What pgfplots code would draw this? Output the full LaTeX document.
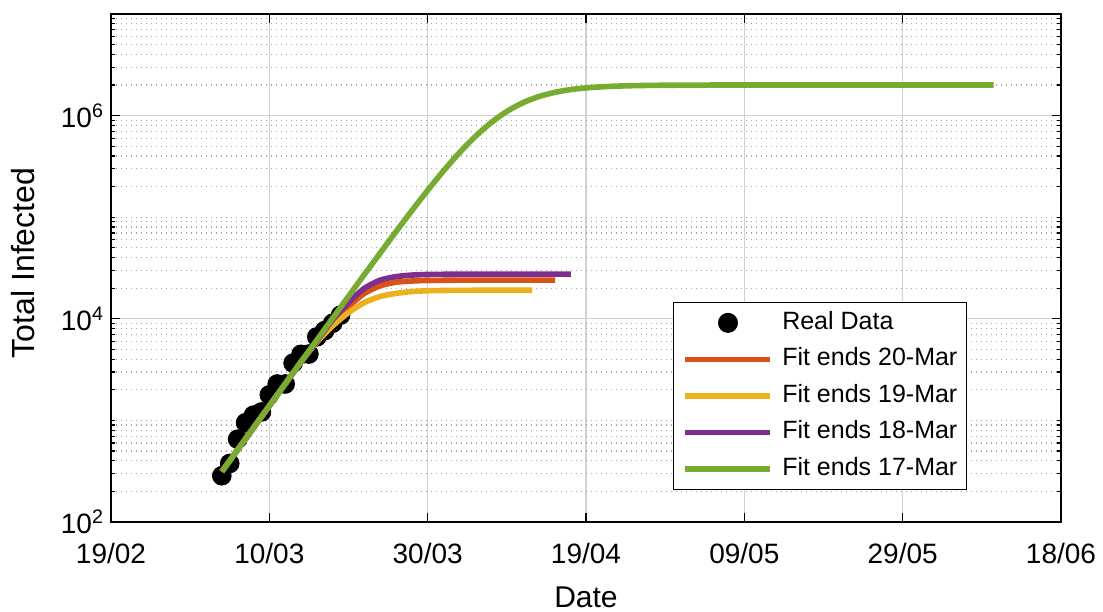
\documentclass[border=0pt]{standalone}
\usepackage{fontspec}
\setmainfont{Liberation Sans}
\usepackage{pgfplots}
\pgfplotsset{compat=1.18}
\definecolor{mOrange}{rgb}{0.85,0.325,0.098}
\definecolor{mYellow}{rgb}{0.929,0.694,0.125}
\definecolor{mPurple}{rgb}{0.494,0.184,0.556}
\definecolor{mGreen}{rgb}{0.466,0.674,0.188}
\pgfplotsset{
  linelegend/.style={legend image code/.code={\draw[##1] (0pt,0pt) -- (42.5pt,0pt);}},
  dotlegend/.style={legend image code/.code={\draw[mark repeat=2,mark phase=2,##1] plot coordinates {(0pt,0pt) (21.25pt,0pt) (42.5pt,0pt)};}},
}
\begin{document}
\begin{tikzpicture}
\begin{axis}[
  scale only axis, width=475pt, height=254pt,
  clip marker paths=true,
  ymode=log, xmin=0, xmax=120, ymin=1e2, ymax=1e7,
  xtick={0,20,40,60,80,100,120},
  xticklabels={19/02,10/03,30/03,19/04,09/05,29/05,18/06},
  ytick={1e2,1e4,1e6},
  yticklabels={10\textsuperscript{2},10\textsuperscript{4},10\textsuperscript{6}},
  minor ytick={200,300,400,500,600,700,800,900,1000,2000,3000,4000,5000,6000,7000,8000,9000,20000,30000,40000,50000,60000,70000,80000,90000,100000,200000,300000,400000,500000,600000,700000,800000,900000,2000000,3000000,4000000,5000000,6000000,7000000,8000000,9000000},
  grid=both,
  major grid style={black!18, line width=0.6pt},
  minor grid style={black!35, line width=0.6pt, dash pattern=on 0.6pt off 1.9pt},
  tick align=inside,
  major tick length=4.5pt, minor tick length=2pt,
  every tick/.style={black, line width=0.6pt},
  axis line style={black, line width=0.75pt},
  tick label style={font=\fontsize{14}{16}\selectfont},
  xticklabel style={yshift=-7pt},
  yticklabel style={anchor=base east, yshift=-6pt},
  xlabel={Date}, ylabel={Total Infected},
  xlabel style={font=\fontsize{15}{18}\selectfont, at={(rel axis cs:0.5,-0.1476)}, anchor=center},
  ylabel style={font=\fontsize{16}{18}\selectfont, at={(rel axis cs:-0.0926,0.51)}, anchor=center},
  legend style={at={(0.901,0.063)}, anchor=south east, draw=black, line width=0.6pt,
    font=\fontsize{12.5}{15}\selectfont, inner xsep=4.5pt, inner ysep=4.5pt,
    row sep=6.75pt, column sep=4.5pt,
    nodes={inner sep=0pt, text height=9pt, text depth=2.5pt}},
  legend cell align=left,
  linelegend,
]
\addplot[only marks, mark=*, mark size=4.7pt, black, fill=black, dotlegend]
  coordinates {
  (14,285) (15,377) (16,653) (17,949) (18,1126) (19,1209) (20,1784) (21,2281)
  (22,2281) (23,3661) (24,4469) (25,4499) (26,6633) (27,7652) (28,9043) (29,10871)
  };
\addlegendentry{Real Data}
\addplot[mOrange, line width=2.8pt, smooth, tension=0.4] coordinates {
  (14,313) (18,845) (22,2286) (24,3758) (26,6026) (28,9333) (30,13180) (32,17780)
  (34,21130) (36,22910) (38,23550) (40,23820) (44,23990) (50,24000) (56.1,24000)
  };
\addlegendentry{Fit ends 20-Mar}
\addplot[mYellow, line width=2.8pt, smooth, tension=0.4] coordinates {
  (14,313) (18,845) (22,2286) (24,3758) (26,5888) (28,8511) (30,11480) (32,14450)
  (34,16600) (36,17780) (38,18540) (40,18880) (44,19050) (50,19100) (53.2,19100)
  };
\addlegendentry{Fit ends 19-Mar}
\addplot[mPurple, line width=2.8pt, smooth, tension=0.4] coordinates {
  (14,313) (18,845) (22,2286) (24,3758) (26,6026) (28,9772) (30,14450) (32,19950)
  (34,23990) (36,26000) (38,26920) (40,27290) (44,27480) (50,27500) (58.1,27500)
  };
\addlegendentry{Fit ends 18-Mar}
\addplot[mGreen, line width=2.8pt, smooth, tension=0.4] coordinates {
  (14,313) (16,514) (18,845) (20,1390) (22,2286) (24,3758) (26,6166) (28,10140)
  (30,16630) (32,27230) (34,44360) (36,72070) (38,115900) (40,183800) (42,285500)
  (44,429900) (46,621000) (48,851000) (50,1099000) (52,1335000) (54,1535000)
  (56,1689000) (58,1800000) (60,1873000) (62,1920000) (64,1951000) (66,1970000)
  (68,1982000) (70,1989000) (75,1997000) (80,2000000) (111.5,2000000)
  };
\addlegendentry{Fit ends 17-Mar}
\end{axis}
\pgfresetboundingbox
\path ([xshift=-55.5pt,yshift=-45pt]current axis.south west) rectangle ([xshift=21pt,yshift=7pt]current axis.north east);
\end{tikzpicture}
\end{document}
